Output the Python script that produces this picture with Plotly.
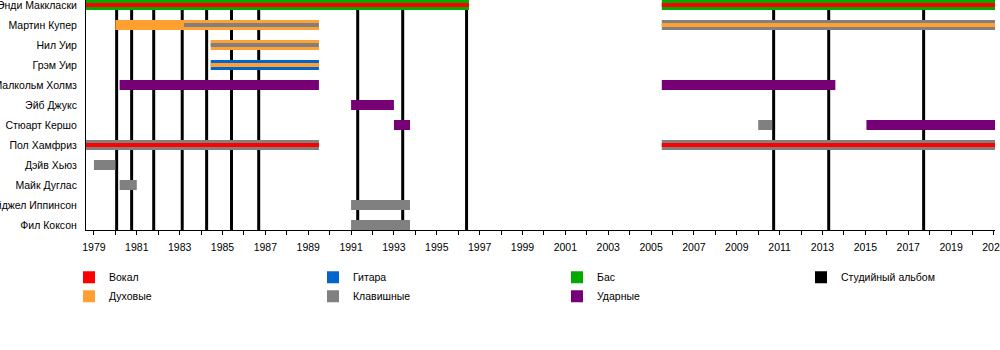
import plotly.graph_objects as go

# ---------------- data ----------------
members = ["Энди Маккласки", "Мартин Купер", "Нил Уир", "Грэм Уир", "Малкольм Холмз",
           "Эйб Джукс", "Стюарт Кершо", "Пол Хамфриз", "Дэйв Хьюз", "Майк Дуглас",
           "Найджел Иппинсон", "Фил Коксон"]

roles = ["Вокал", "Духовые", "Гитара", "Клавишные", "Бас", "Ударные"]
role_colors = ["#ff0000", "#ffa030", "#0066cc", "#808080", "#00aa00", "#770077"]
legend_rank = [1, 5, 2, 6, 3, 7]

# main bars: member, start, end, role
main_member = ["Энди Маккласки", "Энди Маккласки", "Мартин Купер", "Мартин Купер", "Нил Уир",
               "Грэм Уир", "Малкольм Холмз", "Малкольм Холмз", "Эйб Джукс", "Стюарт Кершо",
               "Стюарт Кершо", "Стюарт Кершо", "Пол Хамфриз", "Пол Хамфриз", "Дэйв Хьюз",
               "Майк Дуглас", "Найджел Иппинсон", "Фил Коксон"]
main_start = [1978.6, 2005.5, 1980.0, 2005.5, 1984.45, 1984.45, 1980.2, 2005.5, 1991.0, 1993.0,
              2010.0, 2015.05, 1978.6, 2005.5, 1979.0, 1980.2, 1991.0, 1991.0]
main_end = [1996.5, 2021.1, 1989.5, 2021.1, 1989.5, 1989.5, 1989.5, 2013.6, 1993.0, 1993.75,
            2010.65, 2021.1, 1989.5, 2021.1, 1980.0, 1981.0, 1993.75, 1993.75]
main_role = ["Бас", "Бас", "Духовые", "Клавишные", "Духовые", "Гитара", "Ударные", "Ударные",
             "Ударные", "Ударные", "Клавишные", "Ударные", "Клавишные", "Клавишные",
             "Клавишные", "Клавишные", "Клавишные", "Клавишные"]

# secondary stripes: member, start, end, role
sub_member = ["Энди Маккласки", "Энди Маккласки", "Мартин Купер", "Мартин Купер", "Нил Уир",
              "Грэм Уир", "Пол Хамфриз", "Пол Хамфриз"]
sub_start = [1978.6, 2005.5, 1983.2, 2005.5, 1984.45, 1984.45, 1978.6, 2005.5]
sub_end = [1996.5, 2021.1, 1989.5, 2021.1, 1989.5, 1989.5, 1989.5, 2021.1]
sub_role = ["Вокал", "Вокал", "Клавишные", "Духовые", "Клавишные", "Духовые", "Вокал", "Вокал"]

album_label = "Студийный альбом"
album_dates = [1980.06, 1980.76, 1981.79, 1983.12, 1984.26, 1985.42, 1986.69,
               1991.31, 1993.41, 1996.39, 2010.72, 2013.29, 2017.72]

x_range = [1978.63, 2021.05]
tick_years = list(range(1979, 2022, 2))

# ---------------- figure ----------------
row = {m: i for i, m in enumerate(members)}
y_lo, y_hi = -0.25, len(members) - 0.75

fig = go.Figure()

# album lines (drawn first, behind the bars)
fig.add_trace(go.Bar(
    orientation="v", x=album_dates, y=[y_hi - y_lo] * len(album_dates),
    base=[y_lo] * len(album_dates), width=0.14, marker=dict(color="#000000", line_width=0),
    name=album_label, legendrank=4, showlegend=True, hoverinfo="skip"))

in_legend = set()
for role, color, rank in zip(roles, role_colors, legend_rank):
    idx = [i for i, r in enumerate(main_role) if r == role]
    if not idx:
        continue
    in_legend.add(role)
    fig.add_trace(go.Bar(
        orientation="h",
        y=[row[main_member[i]] for i in idx],
        x=[main_end[i] - main_start[i] for i in idx],
        base=[main_start[i] for i in idx],
        width=0.5, marker=dict(color=color, line_width=0),
        name=role, legendgroup=role, legendrank=rank, showlegend=True))

for role, color, rank in zip(roles, role_colors, legend_rank):
    idx = [i for i, r in enumerate(sub_role) if r == role]
    if not idx:
        continue
    fig.add_trace(go.Bar(
        orientation="h",
        y=[row[sub_member[i]] for i in idx],
        x=[sub_end[i] - sub_start[i] for i in idx],
        base=[sub_start[i] for i in idx],
        width=0.2, marker=dict(color=color, line_width=0),
        name=role, legendgroup=role, legendrank=rank,
        showlegend=role not in in_legend))
    in_legend.add(role)

font = "Liberation Sans, Arial, sans-serif"
fig.update_layout(
    width=1000, height=350,
    margin=dict(l=86, r=5, t=0, b=120, autoexpand=False),
    barmode="overlay",
    plot_bgcolor="white", paper_bgcolor="white",
    font=dict(family=font, size=10.5, color="#000000"),
    showlegend=True,
    legend=dict(orientation="h", x=-0.0187, xanchor="left", y=-0.1426, yanchor="top",
                entrywidth=199, font=dict(size=10.5), traceorder="normal",
                bgcolor="rgba(0,0,0,0)"),
    xaxis=dict(range=x_range, tickvals=tick_years, ticktext=[str(t) for t in tick_years],
               ticks="outside", ticklen=4, tickcolor="#000000", tickwidth=1,
               minor=dict(dtick=1, tick0=1979, ticks="outside", ticklen=4, tickcolor="#000000"),
               showline=True, linecolor="#000000", linewidth=1, showgrid=False,
               zeroline=False, automargin=False, tickfont=dict(size=10.5),
               ticklabelstandoff=3, ticklabeloverflow="allow"),
    yaxis=dict(range=[y_hi, y_lo], tickvals=list(range(len(members))), ticktext=members,
               ticks="", showline=True, linecolor="#000000", linewidth=1, showgrid=False,
               zeroline=False, automargin=False, ticklabelstandoff=6,
               tickfont=dict(size=10.5), ticklabeloverflow="allow"),
)

fig.write_html("out.html")
